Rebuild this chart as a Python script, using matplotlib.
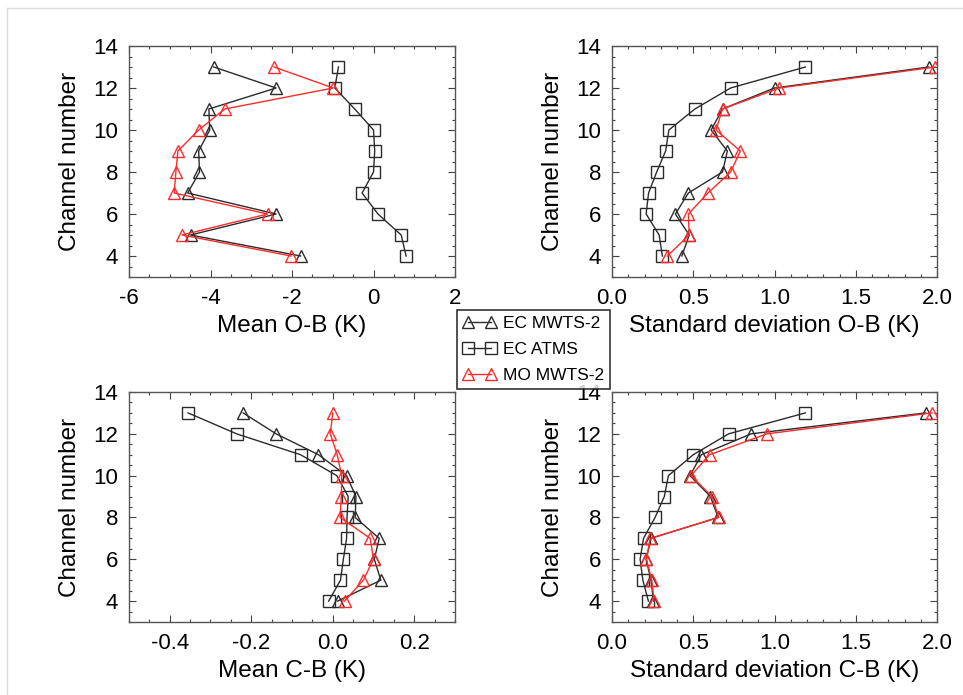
import matplotlib.pyplot as plt
import numpy as np
from matplotlib.lines import Line2D

plt.rcParams['font.family'] = ['Liberation Sans', 'DejaVu Sans']

channels = [13, 12, 11, 10, 9, 8, 7, 6, 5, 4]

# mean O-B (K)
ob_mean_ec_mwts = [-3.92, -2.39, -4.04, -4.02, -4.29, -4.27, -4.56, -2.39, -4.49, -1.79]
ob_mean_ec_atms = [-0.86, -0.95, -0.46, 0.00, 0.03, 0.00, -0.28, 0.11, 0.68, 0.80]
ob_mean_mo_mwts = [-2.44, -0.99, -3.65, -4.29, -4.80, -4.85, -4.89, -2.60, -4.70, -2.02]

# std O-B (K)
ob_std_ec_mwts = [1.95, 1.00, 0.68, 0.61, 0.71, 0.68, 0.47, 0.39, 0.475, 0.43]
ob_std_ec_atms = [1.19, 0.73, 0.51, 0.35, 0.33, 0.275, 0.225, 0.21, 0.29, 0.31]
ob_std_mo_mwts = [1.99, 1.03, 0.68, 0.64, 0.79, 0.73, 0.59, 0.47, 0.475, 0.34]

# mean C-B (K)
cb_mean_ec_mwts = [-0.22, -0.139, -0.035, 0.034, 0.057, 0.055, 0.114, 0.102, 0.118, 0.012]
cb_mean_ec_atms = [-0.355, -0.236, -0.079, 0.010, 0.038, 0.035, 0.034, 0.026, 0.019, -0.010]
cb_mean_mo_mwts = [0.0, -0.006, 0.011, 0.022, 0.021, 0.018, 0.092, 0.100, 0.075, 0.029]

# std C-B (K)
cb_std_ec_mwts = [1.93, 0.857, 0.55, 0.48, 0.606, 0.653, 0.24, 0.21, 0.24, 0.255]
cb_std_ec_atms = [1.19, 0.718, 0.50, 0.347, 0.322, 0.265, 0.194, 0.173, 0.19, 0.224]
cb_std_mo_mwts = [1.97, 0.953, 0.60, 0.486, 0.616, 0.657, 0.235, 0.212, 0.245, 0.259]

labels = ['EC MWTS-2', 'EC ATMS', 'MO MWTS-2']
red = '#ff2a2a'
dark = '#2b2b2b'

fig = plt.figure(figsize=(9.63, 6.95), dpi=100)

W, H = 963.0, 695.0
def box(x0, y0, x1, y1):
    return [x0 / W, 1 - y1 / H, (x1 - x0) / W, (y1 - y0) / H]

panels = [
    (box(129, 46, 455, 277), ob_mean_ec_mwts, ob_mean_ec_atms, ob_mean_mo_mwts,
     (-6, 2), np.arange(-6, 2.1, 2), 0.5, ['-6', '-4', '-2', '0', '2'], 'Mean O-B (K)'),
    (box(612, 46, 937, 277), ob_std_ec_mwts, ob_std_ec_atms, ob_std_mo_mwts,
     (0, 2), np.arange(0, 2.01, 0.5), 0.1, ['0.0', '0.5', '1.0', '1.5', '2.0'], 'Standard deviation O-B (K)'),
    (box(129, 392, 455, 622), cb_mean_ec_mwts, cb_mean_ec_atms, cb_mean_mo_mwts,
     (-0.5, 0.3), [-0.4, -0.2, 0.0, 0.2], 0.05, ['-0.4', '-0.2', '0.0', '0.2'], 'Mean C-B (K)'),
    (box(612, 392, 937, 622), cb_std_ec_mwts, cb_std_ec_atms, cb_std_mo_mwts,
     (0, 2), np.arange(0, 2.01, 0.5), 0.1, ['0.0', '0.5', '1.0', '1.5', '2.0'], 'Standard deviation C-B (K)'),
]

for rect, a, b, c, xl, xt, minor, xtl, xlab in panels:
    ax = fig.add_axes(rect)
    ax.plot(a, channels, '-', color=dark, lw=1, marker='^', ms=8.5, mfc='none', mec=dark, mew=1)
    ax.plot(b, channels, '-', color=dark, lw=1, marker='s', ms=8.5, mfc='none', mec=dark, mew=1)
    ax.plot(c, channels, '-', color=red, lw=1, marker='^', ms=8.5, mfc='none', mec=red, mew=1)
    ax.set_xlim(*xl)
    ax.set_ylim(3, 14)
    ax.set_xticks(xt)
    ax.set_xticklabels(xtl)
    ax.set_xticks(np.arange(xl[0], xl[1] + 1e-9, minor), minor=True)
    ax.set_yticks([4, 6, 8, 10, 12, 14])
    ax.set_yticks(np.arange(3, 14.01, 0.5), minor=True)
    ax.tick_params(which='both', direction='in', top=True, right=True, labelsize=16,
                   color='#444444', width=0.8)
    ax.tick_params(which='major', length=5, pad=8)
    ax.tick_params(which='minor', length=2.5)
    for s in ax.spines.values():
        s.set_color('#555555')
        s.set_linewidth(1)
    ax.set_xlabel(xlab, fontsize=17.5, labelpad=4)
    ax.set_ylabel('Channel number', fontsize=17.5, labelpad=9)

handles = [
    Line2D([], [], color=dark, lw=1, marker='^', ms=8.5, mfc='none', mec=dark),
    Line2D([], [], color=dark, lw=1, marker='s', ms=8.5, mfc='none', mec=dark),
    Line2D([], [], color=red, lw=1, marker='^', ms=8.5, mfc='none', mec=red),
]
leg = fig.legend(handles, labels, loc='upper left', bbox_to_anchor=(457 / W, 1 - 310 / H),
                 numpoints=2, handlelength=1.9, handletextpad=0.4, fontsize=12.5,
                 frameon=True, fancybox=False, borderpad=0.35, borderaxespad=0,
                 labelspacing=0.62, edgecolor='black')
leg.get_frame().set_linewidth(1.2)

# thin grey frame of the page
fig.add_artist(Line2D([7 / W, 7 / W], [0, 1 - 8 / H], color='#dddddd', lw=1))
fig.add_artist(Line2D([7 / W, 1], [1 - 8 / H, 1 - 8 / H], color='#dddddd', lw=1))

fig.savefig('out.png', dpi=100)
